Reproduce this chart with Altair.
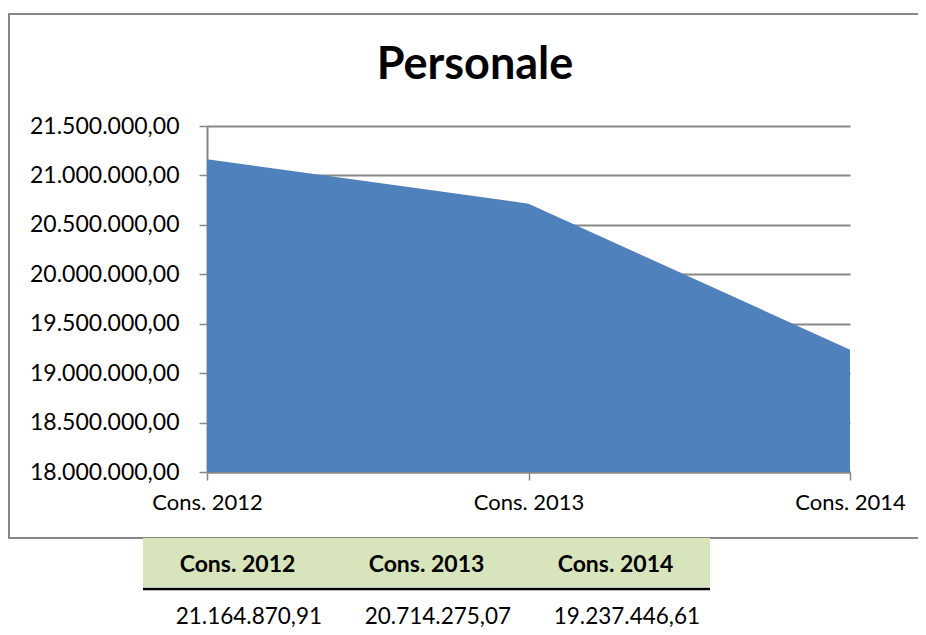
import altair as alt
import pandas as pd

# ---- data ----
periods = ["Cons. 2012", "Cons. 2013", "Cons. 2014"]
values = [21164870.91, 20714275.07, 19237446.61]
y_ticks = [18000000, 18500000, 19000000, 19500000, 20000000, 20500000, 21000000, 21500000]
title_text = "Personale"


def it_fmt(v):
    s = f"{v:,.2f}"
    return s.replace(",", "#").replace(".", ",").replace("#", ".")


labels = [it_fmt(v) for v in values]

df = pd.DataFrame({"period": periods, "value": values})
tab = pd.DataFrame({"period": periods, "label": labels})
one = pd.DataFrame({"a": [0]})

GRAY = "#878787"
FONT = "Lato"

area = alt.Chart(df).mark_area(color="#4F81BD", clip=True).encode(
    x=alt.X(
        "period:N",
        sort=periods,
        scale=alt.Scale(type="point", padding=0),
        axis=alt.Axis(
            title=None, labelAngle=0, grid=False,
            domainColor=GRAY, domainWidth=2,
            tickColor=GRAY, tickWidth=1.5, tickSize=8,
            labelFont=FONT, labelFontSize=22, labelColor="black",
            labelPadding=12,
        ),
    ),
    y=alt.Y(
        "value:Q",
        stack=None,
        scale=alt.Scale(domain=[18000000, 21500000], zero=False, nice=False),
        axis=alt.Axis(
            title=None, values=y_ticks,
            labelExpr="replace(format(datum.value, ',.0f'), regexp(',', 'g'), '.') + ',00'",
            grid=True, gridColor=GRAY, gridWidth=1.8,
            domainColor=GRAY, domainWidth=2,
            tickColor=GRAY, tickWidth=1.5, tickSize=8,
            labelFont=FONT, labelFontSize=23, labelColor="black",
            labelPadding=20,
        ),
    ),
)

frame = alt.Chart(one).mark_rect(fill="transparent", stroke=GRAY, strokeWidth=2).encode(
    x=alt.value(-198), x2=alt.value(760), y=alt.value(-112), y2=alt.value(412)
)

title = alt.Chart(one).mark_text(
    text=title_text, font=FONT, fontWeight="bold", fontSize=45,
    align="center", baseline="alphabetic", color="black",
).encode(x=alt.value(268), y=alt.value(-47))

tab_scale = alt.Scale(type="band", range=[-64, 503], paddingInner=0, paddingOuter=0)

header_bg = alt.Chart(tab).mark_rect(color="#D8E4BC").encode(
    x=alt.X("period:N", sort=periods, scale=tab_scale, axis=None),
    y=alt.value(412), y2=alt.value(461),
)

header_txt = alt.Chart(tab).mark_text(
    font=FONT, fontWeight="bold", fontSize=23, color="black", baseline="middle"
).encode(
    x=alt.X("period:N", sort=periods, scale=tab_scale, axis=None),
    y=alt.value(439),
    text="period:N",
)

header_rule = alt.Chart(one).mark_rule(color="black", strokeWidth=2.5).encode(
    x=alt.value(-64), x2=alt.value(503), y=alt.value(463)
)

value_txt = alt.Chart(tab).mark_text(
    font=FONT, fontSize=22.5, color="black", baseline="middle", align="right", dx=-10
).encode(
    x=alt.X("period:N", sort=periods, scale=tab_scale, axis=None, bandPosition=1),
    y=alt.value(491),
    text="label:N",
)

chart = (
    alt.layer(area, frame, title, header_bg, header_txt, header_rule, value_txt)
    .resolve_scale(x="independent")
    .properties(
        width=643, height=346,
        autosize=alt.AutoSizeParams(type="none"),
        padding={"left": 199, "top": 118, "right": 68, "bottom": 162},
        background="white",
    )
    .configure_view(stroke=None)
)

chart.save("out.html", embed_options={"renderer": "svg", "actions": False})
